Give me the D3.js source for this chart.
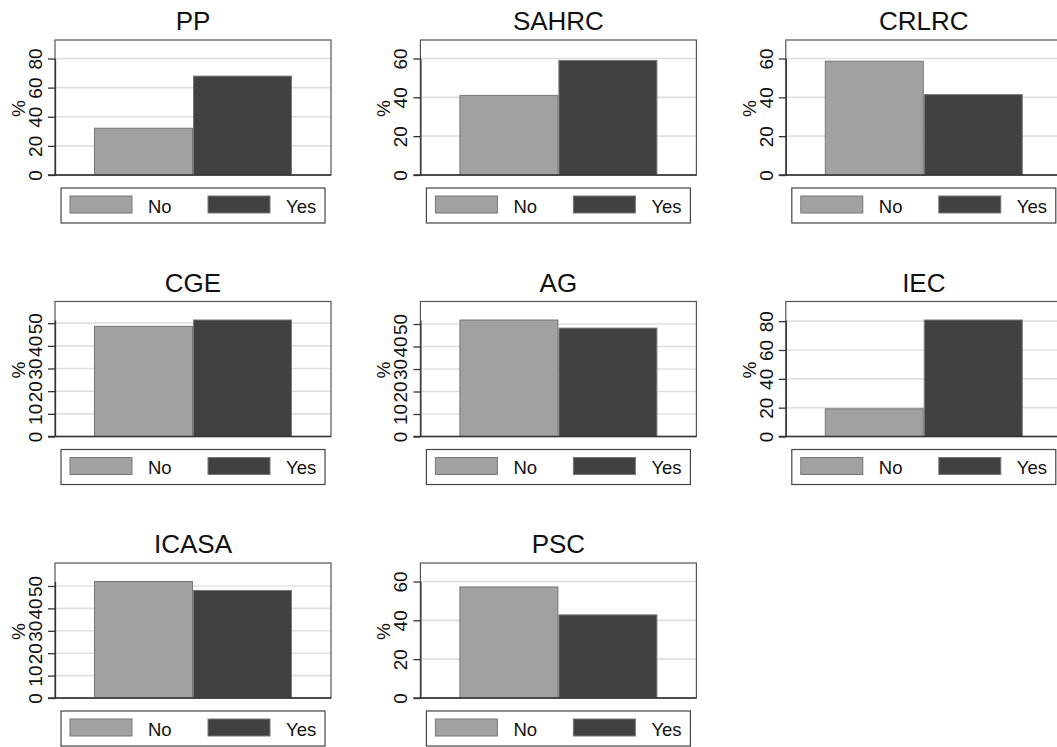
<!DOCTYPE html>
<html>
<head>
<meta charset="utf-8">
<script src="https://cdn.jsdelivr.net/npm/d3@7"></script>
<style>
  body { margin: 0; background: #fff; }
  svg { display: block; font-family: "Liberation Sans", Arial, Helvetica, sans-serif; }
</style>
</head>
<body>
<div id="chart"></div>
<script>
// Values (% answering No / Yes per body)
let panels = ["PP", "SAHRC", "CRLRC", "CGE", "AG", "IEC", "ICASA", "PSC"];
let categories = ["No", "Yes"];
let noValues  = [32.1, 41.0, 58.6, 48.6, 51.8, 19.2, 52.0, 57.2];
let yesValues = [67.9, 59.0, 41.4, 51.4, 48.2, 80.8, 48.0, 42.8];
let tickStep = [20, 20, 20, 10, 10, 20, 10, 20];
let tickMax  = [80, 60, 60, 50, 50, 80, 50, 60];

let width = 1057;
let height = 747;
let colors = { No: "#a1a1a1", Yes: "#414141" };

// plot-region geometry for one panel
let plotW = 276, plotH = 135, axisH = 116.5;

let svg = d3.select("#chart")
            .append("svg")
            .attr("width", width)
            .attr("height", height);

panels.forEach(function(name, i) {
  let col = i % 3, row = Math.floor(i / 3);
  let left = 55 + col * 365.4;
  let top = 40 + row * 261.5;
  let vals = [noValues[i], yesValues[i]];

  let g = svg.append("g")
             .attr("transform", "translate(" + left + "," + top + ")");

  let yTop = Math.max(d3.max(vals), tickMax[i]);
  let y = d3.scaleLinear()
            .domain([0, yTop])
            .range([plotH, plotH - axisH]);

  let x = d3.scaleBand()
            .domain(categories)
            .range([39, 237])
            .paddingInner(0);

  let ticks = d3.range(0, tickMax[i] + 0.001, tickStep[i]);

  // gridlines
  g.selectAll("line.grid")
   .data(ticks.filter(t => t > 0))
   .enter()
   .append("line")
   .attr("x1", 0)
   .attr("x2", plotW)
   .attr("y1", d => y(d))
   .attr("y2", d => y(d))
   .style("stroke", "#e0e0e0")
   .style("stroke-width", 1.6);

  // frame
  g.append("rect")
   .attr("x", 0)
   .attr("y", 0)
   .attr("width", plotW)
   .attr("height", plotH)
   .style("fill", "none")
   .style("stroke", "#555")
   .style("stroke-width", 1.2);

  // bars
  g.selectAll("rect.bar")
   .data(categories)
   .enter()
   .append("rect")
   .attr("x", d => x(d) + 0.5)
   .attr("width", x.bandwidth() - 1)
   .attr("y", (d, j) => y(vals[j]))
   .attr("height", (d, j) => plotH - y(vals[j]))
   .style("fill", d => colors[d])
   .style("stroke", "#777")
   .style("stroke-width", 1);

  // y axis
  let axis = g.append("g")
              .call(d3.axisLeft(y).tickValues(ticks).tickSize(7).tickSizeOuter(0));
  axis.select(".domain").style("stroke", "#333").style("stroke-width", 1.3);
  axis.selectAll(".tick line").style("stroke", "#333").style("stroke-width", 1.3);
  axis.selectAll(".tick text")
      .attr("transform", "rotate(-90)")
      .attr("x", 0)
      .attr("y", -13)
      .attr("dy", 0)
      .style("text-anchor", "middle")
      .style("font-size", "19px")
      .style("font-family", "Liberation Sans, Arial, sans-serif")
      .style("fill", "#111");

  // bottom axis line
  g.append("line")
   .attr("x1", -7)
   .attr("x2", plotW)
   .attr("y1", plotH)
   .attr("y2", plotH)
   .style("stroke", "#333")
   .style("stroke-width", 1.3);

  // axis title
  g.append("text")
   .attr("transform", "translate(-30," + (plotH / 2 + 1) + ") rotate(-90)")
   .style("text-anchor", "middle")
   .style("font-size", "19px")
   .style("fill", "#111")
   .text("%");

  // panel title
  g.append("text")
   .attr("x", plotW / 2)
   .attr("y", -10)
   .style("text-anchor", "middle")
   .style("font-size", "26px")
   .style("fill", "#111")
   .text(name);

  // legend
  let lg = g.append("g")
            .attr("transform", "translate(6," + (plotH + 13) + ")");
  lg.append("rect")
    .attr("width", 264)
    .attr("height", 35)
    .style("fill", "#fff")
    .style("stroke", "#444")
    .style("stroke-width", 1.2);

  let item = lg.selectAll("g.item")
               .data(categories)
               .enter()
               .append("g")
               .attr("transform", (d, j) => "translate(" + (9 + j * 138) + ",0)");
  item.append("rect")
      .attr("y", 8)
      .attr("width", 62)
      .attr("height", 17)
      .style("fill", d => colors[d])
      .style("stroke", "#777")
      .style("stroke-width", 1);
  item.append("text")
      .attr("x", 78)
      .attr("y", 24.5)
      .style("font-size", "18.5px")
      .style("fill", "#111")
      .text(d => d);
});
</script>
</body>
</html>
